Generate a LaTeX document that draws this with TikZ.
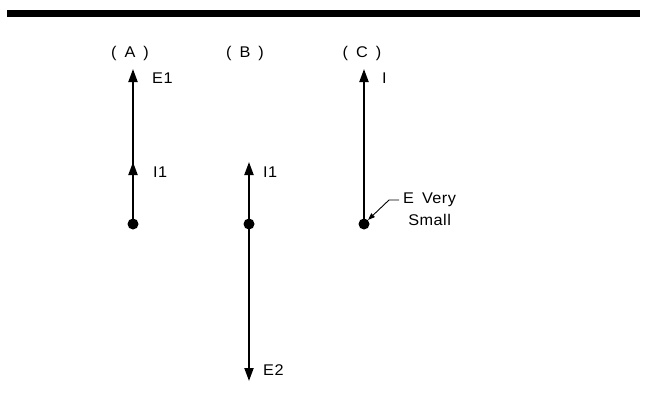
\documentclass[tikz,border=0pt]{standalone}
\usepackage{fontspec}
\setmainfont{Liberation Sans}[FakeStretch=1.05,LetterSpace=3,WordSpace=1.6]
\usetikzlibrary{arrows.meta}
\begin{document}
\begin{tikzpicture}[x=1pt,y=-1pt,
  vec/.style={line width=2pt,-{Triangle[length=13pt,width=9pt]}},
  dotnode/.style={circle,fill=black,inner sep=0pt,minimum size=11pt},
  lbl/.style={font=\fontsize{15.5pt}{22pt}\selectfont,inner sep=0pt},
  leader/.style={line width=0.9pt,-{Triangle[length=7pt,width=5pt]}}]
\useasboundingbox (0,0) rectangle (654,405);
\fill (7,10) rectangle (640,17);
% A
\node[dotnode] (dA) at (133,224) {};
\coordinate (tA) at (133,69);
\coordinate (mA) at (133,162);
\draw[vec] (dA.center) -- (tA);
\draw[vec] (dA.center) -- (mA);
\node[lbl] (labA) at (130,53) {( A )};
\node[lbl,anchor=west] (e1) at (152,78) {E1};
\node[lbl,anchor=west] (i1a) at (153,172) {I1};
% B
\node[dotnode] (dB) at (249,224) {};
\coordinate (tB) at (249,162);
\coordinate (bB) at (249,381);
\draw[vec] (dB.center) -- (tB);
\draw[vec] (dB.center) -- (bB);
\node[lbl] (labB) at (245,53) {( B )};
\node[lbl,anchor=west] (i1b) at (263,172) {I1};
\node[lbl,anchor=west] (e2) at (263,370) {E2};
% C
\node[dotnode] (dC) at (364,224) {};
\coordinate (tC) at (364,69);
\draw[vec] (dC.center) -- (tC);
\node[lbl] (labC) at (362,53) {( C )};
\node[lbl,anchor=west] (ic) at (382,78) {I};
\node[lbl,anchor=north west,align=center] (small) at (403,193) {E Very\\Small};
\coordinate (kC) at (389,200);
\draw[leader] (399,200) -- (kC) -- (dC.north east);
\end{tikzpicture}
\end{document}
